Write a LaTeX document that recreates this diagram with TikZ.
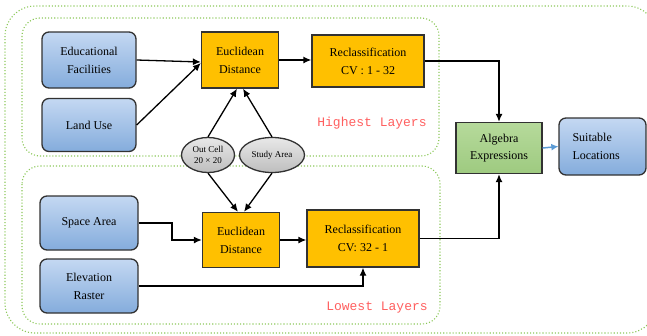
\documentclass[tikz,border=0pt]{standalone}
\usepackage{fontspec}
\setmainfont{Liberation Serif}
\newfontfamily\monof{Liberation Mono}
\usetikzlibrary{arrows.meta,shapes.geometric}
\definecolor{bluetop}{RGB}{196,216,242}
\definecolor{bluebot}{RGB}{132,172,220}
\definecolor{orangebox}{RGB}{255,192,0}
\definecolor{greentop}{RGB}{182,218,155}
\definecolor{greenbot}{RGB}{158,202,128}
\definecolor{graytop}{RGB}{232,232,232}
\definecolor{graybot}{RGB}{190,190,190}
\definecolor{edge}{RGB}{50,50,50}
\definecolor{grp}{RGB}{140,200,90}
\definecolor{lblred}{RGB}{255,95,95}
\definecolor{bluearrow}{RGB}{91,155,213}
\tikzset{
  base/.style={draw=edge, line width=1.3pt, align=center, inner sep=2pt,
    font=\fontsize{12}{18}\selectfont},
  bluebox/.style={base, rounded corners=7pt, top color=bluetop, bottom color=bluebot},
  orangebox/.style={base, fill=orangebox},
  greenbox/.style={base, top color=greentop, bottom color=greenbot, font=\fontsize{12}{17}\selectfont},
  grayell/.style={ellipse, draw=edge, line width=1.3pt, top color=graytop, bottom color=graybot,
    inner sep=0pt, align=center, font=\fontsize{9}{11}\selectfont},
  group/.style={draw=grp, dotted, line width=1.1pt, rounded corners=18pt},
  arr/.style={draw=black, line width=1.3pt, -{Latex[length=8pt,width=7pt]}},
  barr/.style={draw=bluearrow, line width=1.5pt, -{Latex[length=7pt,width=7pt]}},
  grplabel/.style={text=lblred, font=\monof\fontsize{13}{15}\selectfont}
}
\begin{document}
\begin{tikzpicture}[x=1pt,y=-1pt]
\useasboundingbox (0,0) rectangle (647,335);
\clip (0,0) rectangle (647,335);
% groups
\draw[group, rounded corners=30pt] (5,6) rectangle (657,333);
\draw[group] (22,18) rectangle (439,156);
\draw[group] (22,166) rectangle (440,324);
% upper nodes
\node[bluebox, minimum width=94pt, minimum height=56pt] (edu) at (89,60) {Educational\\Facilities};
\node[bluebox, minimum width=94pt, minimum height=53pt] (land) at (89,125) {Land Use};
\node[orangebox, minimum width=77pt, minimum height=56pt] (euc1) at (240,60) {Euclidean\\Distance};
\node[orangebox, minimum width=112pt, minimum height=52pt] (rec1) at (368,61) {Reclassification\\CV : 1 - 32};
% middle
\node[grayell, minimum width=53pt, minimum height=35pt] (oc) at (208,155) {Out Cell\\20 × 20};
\node[grayell, minimum width=65pt, minimum height=35pt] (sa) at (272,155) {Study Area};
\node[greenbox, minimum width=86pt, minimum height=51pt] (alg) at (499,148) {Algebra\\Expressions};
\node[bluebox, minimum width=87pt, minimum height=57pt, text width=60pt, align=left] (suit) at (602.5,146.5) {Suitable\\Locations};
% lower nodes
\node[bluebox, minimum width=98pt, minimum height=54pt] (space) at (89,223) {Space Area};
\node[bluebox, minimum width=98pt, minimum height=54pt] (elev) at (89,286) {Elevation\\Raster};
\node[orangebox, minimum width=77pt, minimum height=55pt] (euc2) at (241,240) {Euclidean\\Distance};
\node[orangebox, minimum width=112pt, minimum height=57pt] (rec2) at (363,238.5) {Reclassification\\CV: 32 - 1};
% labels
\node[grplabel] (hl) at (372,123) {Highest Layers};
\node[grplabel] (ll) at (377,308) {Lowest Layers};
% connectors
\draw[arr] (edu.east) -- ([yshift=-2pt]euc1.west);
\draw[arr] (land.east) -- ([yshift=-3pt]euc1.west);
\draw[arr] (euc1.east) -- (euc1.east -| rec1.west);
\draw[arr] (rec1.east) -| (alg.north);
\draw[arr] (oc.north) -- ([xshift=-3pt]euc1.south);
\draw[arr] (sa.north) -- ([xshift=3pt]euc1.south);
\draw[arr] (oc.south) -- ([xshift=-3pt]euc2.north);
\draw[arr] (sa.south) -- ([xshift=3pt]euc2.north);
\coordinate (sbend) at (172,223);
\draw[arr] (space.east) -- (sbend) |- (euc2.west);
\draw[arr] (euc2.east) -- (euc2.east -| rec2.west);
\draw[arr] (elev.east) -| (rec2.south);
\draw[arr] (rec2.east) -| (alg.south);
\draw[barr] (alg.east) -- (suit.west);
\end{tikzpicture}
\end{document}
